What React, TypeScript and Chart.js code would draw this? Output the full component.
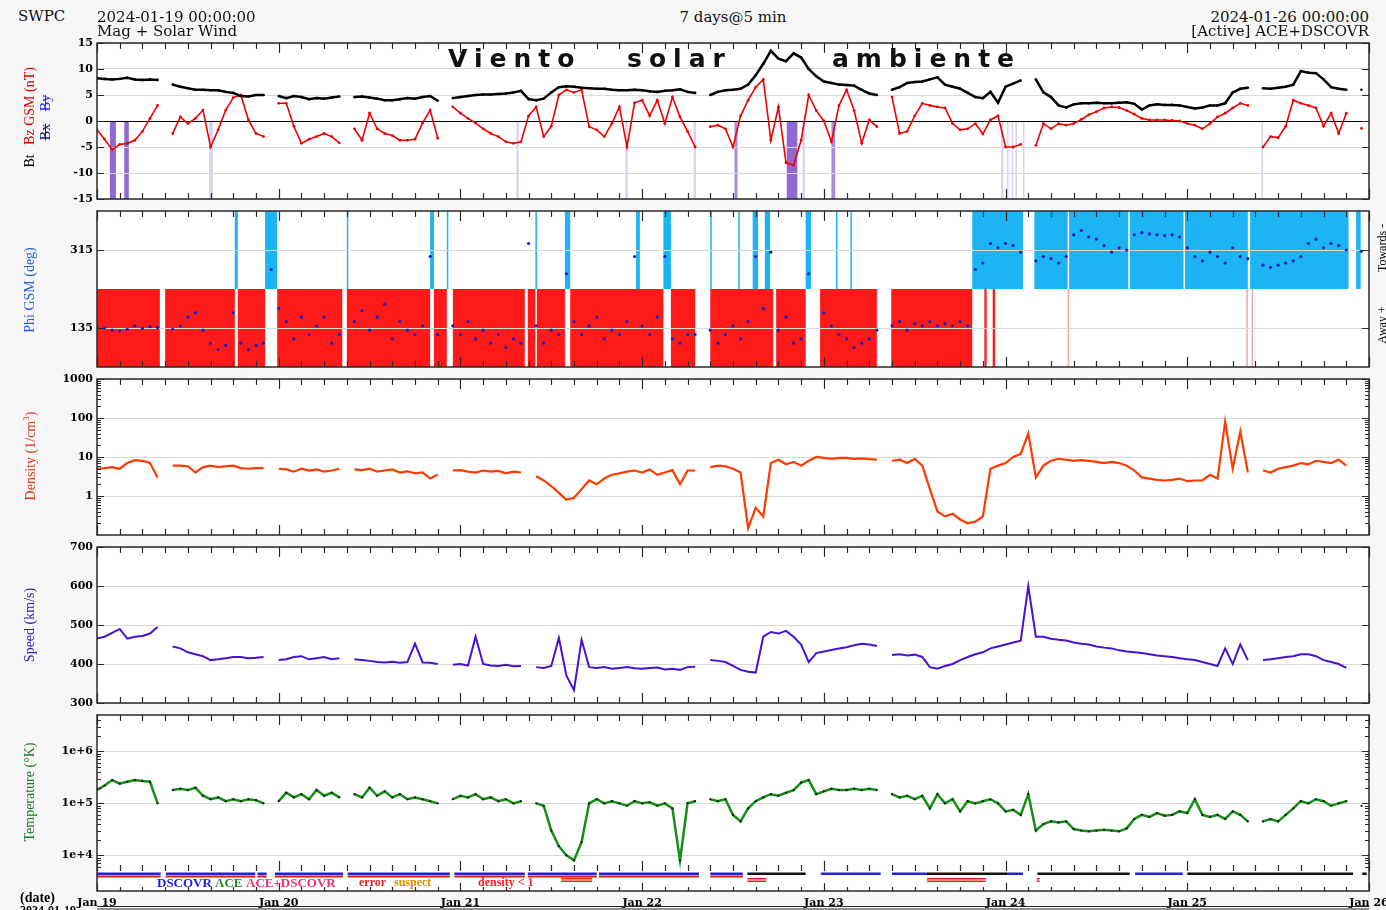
import React, { useEffect, useRef } from 'react';
import Chart from 'chart.js/auto';

// ---------------- DATA (hourly samples, hour 0 = 2024-01-19 00:00) ----------------
const dayLabels = ['Jan 19', 'Jan 20', 'Jan 21', 'Jan 22', 'Jan 23', 'Jan 24', 'Jan 25', 'Jan 26'];
const dayTicks = [0, 24, 48, 72, 96, 120, 144, 168];

const bt = [
  8.2, 8.1, 8.0, 8.1, 8.3, 8.0, 7.9, 8.0, 7.9, null, 7.0, 6.6, 6.3, 6.0, 6.0, 5.9, 5.9, 5.6, 5.4, 4.8, 4.7, 5.0, 5.0, null,
  4.8, 4.4, 4.8, 4.6, 4.2, 4.4, 4.3, 4.5, 4.7, null, 4.6, 4.7, 4.5, 4.3, 4.0, 4.0, 4.2, 4.4, 4.3, 4.6, 4.8, 3.9, null, 4.4,
  4.6, 4.8, 5.0, 5.1, 5.1, 5.2, 5.3, 5.5, 5.8, 4.2, 4.0, 4.3, 5.5, 6.5, 6.7, 6.6, 6.4, 6.3, 6.2, 6.2, 6.0, 5.9, 5.9, 6.0,
  5.9, 5.7, 5.6, 5.8, 5.9, 6.1, 5.6, 5.4, null, 5.0, 5.6, 5.9, 6.0, 6.2, 7.0, 8.8, 11.0, 13.5, 12.0, 11.5, 13.0, 12.2, 10.0, 8.6,
  7.6, 7.3, 7.0, 6.9, 6.8, 6.0, 5.3, 5.0, null, 6.0, 6.5, 7.3, 7.5, 7.6, 8.0, 8.4, 7.0, 6.6, 6.2, 5.4, 4.6, 4.4, 5.6, 3.5,
  6.6, 7.2, 7.8, null, 8.0, 5.5, 4.6, 3.0, 2.6, 3.2, 3.4, 3.4, 3.5, 3.4, 3.4, 3.5, 3.6, 3.3, 2.2, 3.0, 3.2, 3.1, 3.1, 3.0,
  2.7, 2.4, 2.6, 3.0, 3.0, 3.4, 5.5, 6.2, 6.4, null, 6.3, 6.2, 6.4, 6.6, 7.0, 9.6, 9.3, 9.2, 8.0, 6.5, 6.2, 6.0, null, 6.0,
  null,
];

const bz = [
  -1.7, -3.5, -5.5, -4.5, -4.3, -3.7, -2.0, 0.5, 3.0, null, -2.4, 0.8, -0.5, 0.5, 2.1, -5.0, -1.7, 2.1, 4.5, 5.0, 0.2, -2.4, -3.0, null,
  3.4, 3.4, -1.0, -4.3, -3.5, -3.0, -2.4, -3.0, -4.2, null, -1.5, -3.7, 1.5, -1.5, -2.4, -2.8, -3.7, -3.7, -3.5, -0.4, 2.1, -3.3, null, 2.7,
  1.5, 0.5, -0.4, -1.5, -2.4, -3.0, -4.0, -4.3, -4.0, 1.0, 2.7, -3.0, -1.0, 5.0, 6.0, 5.5, 6.0, -1.1, -1.7, -3.0, -0.5, 2.7, -5.0, 3.5,
  4.0, 1.0, 4.0, -0.5, 4.6, 0.8, -2.0, -5.0, null, -1.1, -0.8, -1.5, -5.0, 1.0, 4.0, 6.5, 8.0, -3.7, 2.7, -8.0, -8.5, -3.7, 5.0, 2.0,
  0.0, -4.0, 3.0, 6.0, 2.0, -4.3, 0.2, -1.1, null, 4.6, -2.4, -2.0, 1.0, 3.4, 3.0, 2.7, 2.5, -0.5, -1.7, -1.5, -0.5, -2.5, 0.2, 1.0,
  -5.0, -5.0, -4.5, null, -4.7, -0.5, -1.5, -0.5, -0.8, -0.5, 0.3, 1.2, 1.8, 2.5, 2.7, 2.6, 2.0, 1.3, 0.5, 0.2, 0.2, 0.2, 0.1, 0.0,
  -0.5, -0.8, -1.5, -0.5, 0.8, 1.5, 2.5, 3.4, 3.0, null, -5.0, -3.0, -3.2, -1.0, 4.0, 3.4, 3.0, 2.5, -1.0, 1.5, -2.4, 1.5, null, -1.4,
  null,
];

const phi = [
  138, 135, 130, 128, 132, 140, 134, 138, 136, null, 132, 140, 160, 170, 130, 100, 85, 95, 170, 100, 85, 95, 100, 270,
  180, 150, 110, 160, 120, 140, 160, 100, 120, null, 150, 175, 130, 160, 190, 110, 150, 130, 120, 140, 300, 120, null, 140,
  120, 150, 110, 130, 100, 120, 90, 110, 100, 330, 140, 100, 130, 120, 260, 150, 120, 140, 160, 110, 130, 120, 150, 300,
  140, 120, 160, 300, 110, 100, 120, 120, null, 130, 100, 120, 140, 110, 150, 300, 180, 310, 130, 160, 100, 110, 260, null,
  170, 140, 120, 110, 90, 100, 110, 130, null, 140, 150, 130, 145, 140, 150, 140, 145, 140, 150, 140, 270, 285, 330, 320,
  330, 325, 310, null, 290, 300, 295, 285, 300, 350, 360, 345, 340, 325, 310, 320, 315, 350, 355, 352, 350, 348, 350, 345,
  320, 300, 290, 310, 300, 285, 320, 300, 295, null, 280, 275, 280, 285, 290, 300, 330, 340, 320, 330, 325, 315, null, 312,
  null,
];

const density = [
  5.0, 5.2, 5.5, 5.0, 7.0, 8.3, 8.0, 7.0, 3.0, null, 6.0, 6.0, 5.8, 4.0, 5.5, 6.0, 5.5, 5.8, 6.0, 5.2, 5.0, 5.2, 5.2, null,
  5.0, 4.8, 4.2, 5.0, 4.5, 4.8, 4.2, 4.5, 5.0, null, 4.8, 4.6, 5.0, 4.2, 4.5, 4.8, 4.0, 4.3, 3.8, 4.0, 2.8, 3.5, null, 4.5,
  4.6, 4.2, 4.0, 4.5, 4.2, 4.4, 3.8, 4.2, 4.0, null, 3.2, 2.5, 1.8, 1.2, 0.8, 0.9, 1.5, 2.5, 2.0, 2.8, 3.5, 3.8, 4.2, 4.5,
  4.0, 4.8, 3.5, 4.0, 4.6, 2.0, 4.5, 4.5, null, 5.5, 6.0, 5.8, 5.0, 4.0, 0.15, 0.5, 0.3, 7.0, 8.5, 6.5, 7.5, 6.0, 8.0, 10.0,
  9.5, 9.0, 9.5, 9.5, 9.0, 9.2, 8.8, 8.5, null, 8.0, 8.5, 7.0, 9.0, 6.0, 1.5, 0.4, 0.3, 0.35, 0.25, 0.2, 0.22, 0.3, 5.0, 6.0,
  7.0, 10.0, 12.0, 40.0, 3.0, 6.0, 8.0, 9.0, 8.5, 8.0, 8.3, 8.0, 7.5, 7.0, 7.5, 7.0, 6.0, 4.5, 3.0, 2.8, 2.6, 2.5, 2.6, 2.8,
  2.4, 2.5, 2.5, 3.5, 2.8, 80.0, 5.0, 45.0, 4.0, null, 4.5, 4.0, 5.0, 5.5, 6.0, 7.0, 6.5, 8.0, 7.5, 7.0, 8.5, 6.0, null, 5.0,
  null,
];

const speed = [
  465, 470, 480, 490, 465, 470, 472, 478, 495, null, 445, 440, 430, 425, 420, 410, 412, 415, 418, 418, 415, 416, 418, null,
  410, 412, 418, 420, 412, 415, 418, 412, 415, null, 412, 410, 408, 405, 404, 406, 403, 405, 452, 404, 403, 400, null, 398,
  400, 396, 470, 400, 396, 395, 398, 394, 395, null, 392, 390, 395, 467, 370, 333, 462, 392, 390, 392, 388, 390, 392, 389,
  388, 390, 391, 386, 388, 385, 392, 393, null, 410, 408, 405, 395, 385, 380, 378, 470, 482, 478, 485, 470, 450, 405, 428,
  432, 436, 440, 443, 448, 452, 450, 446, null, 423, 425, 422, 424, 418, 392, 388, 395, 400, 410, 418, 425, 430, 440, 445,
  450, 455, 460, 600, 470, 470, 465, 462, 460, 455, 452, 450, 445, 442, 440, 435, 432, 430, 428, 425, 422, 420, 418, 415,
  412, 410, 405, 400, 395, 440, 400, 450, 410, null, 410, 412, 415, 418, 420, 425, 425, 420, 410, 405, 400, 390, null, 380,
  null,
];

const temperature = [
  1.8e5, 2.2e5, 2.8e5, 2.4e5, 2.6e5, 2.8e5, 2.7e5, 2.6e5, 1.0e5, null, 1.8e5, 1.9e5, 1.8e5, 2.0e5, 1.4e5, 1.2e5, 1.3e5, 1.1e5, 1.2e5, 1.1e5, 1.2e5, 1.15e5, 1.0e5, null,
  1.1e5, 1.6e5, 1.3e5, 1.5e5, 1.2e5, 1.8e5, 1.4e5, 1.6e5, 1.3e5, null, 1.5e5, 1.3e5, 2.0e5, 1.4e5, 1.7e5, 1.3e5, 1.5e5, 1.2e5, 1.3e5, 1.2e5, 1.1e5, 1.0e5, null, 1.2e5,
  1.4e5, 1.3e5, 1.5e5, 1.2e5, 1.3e5, 1.1e5, 1.2e5, 1.0e5, 1.1e5, null, 1.0e5, 0.9e5, 3.0e4, 1.5e4, 1.0e4, 8e3, 1.8e4, 1.0e5, 1.2e5, 1.0e5, 1.1e5, 1.0e5, 0.9e5, 1.1e5,
  1.0e5, 1.05e5, 0.9e5, 1.0e5, 0.8e5, 8e3, 1.0e5, 1.1e5, null, 1.2e5, 1.1e5, 1.2e5, 6e4, 4.5e4, 8e4, 1.1e5, 1.3e5, 1.5e5, 1.4e5, 1.6e5, 1.8e5, 2.5e5, 2.8e5, 1.5e5,
  1.7e5, 1.9e5, 1.8e5, 1.8e5, 1.9e5, 1.8e5, 1.9e5, 1.8e5, null, 1.5e5, 1.3e5, 1.4e5, 1.2e5, 1.4e5, 8e4, 1.5e5, 1.0e5, 1.2e5, 0.7e5, 1.1e5, 1.0e5, 1.1e5, 1.2e5, 1.0e5,
  7e4, 7.5e4, 6e4, 1.5e5, 3e4, 4e4, 4.5e4, 4.3e4, 4.5e4, 3.2e4, 3.0e4, 2.9e4, 3.0e4, 3.1e4, 3.0e4, 2.9e4, 3.3e4, 5e4, 6e4, 5.5e4, 6.5e4, 5.8e4, 6.0e4, 7e4,
  6.5e4, 1.2e5, 6e4, 5.5e4, 6e4, 5e4, 7e4, 6e4, 4.5e4, null, 4.5e4, 5e4, 4.5e4, 6e4, 8e4, 1.1e5, 1.0e5, 1.2e5, 1.1e5, 0.9e5, 1.0e5, 1.1e5, null, 0.9e5,
  null,
];

// axis tick values
const bzTicks = [-15, -10, -5, 0, 5, 10, 15];
const phiTicks = [135, 315];
const densityTicks = [1, 10, 100, 1000];
const speedTicks = [300, 400, 500, 600, 700];
const tempTicks = [1e4, 1e5, 1e6];

// southward-Bz highlight intervals (hours)
const bzSouthStrong = [[1.7, 2.5], [3.6, 4.2], [91.1, 92.5]];
const bzSouthModerate = [[84.2, 84.6], [97.0, 97.5]];
const bzSouthWeak = [[14.8, 15.3], [55.4, 55.7], [69.8, 70.1], [78.8, 79.1], [93.2, 93.5], [119.4, 119.7], [120.2, 120.4], [120.8, 121.0], [121.3, 121.5], [122.3, 122.5], [153.8, 154.0]];

// IMF sector intervals (hours)
const awaySectors = [[0, 8.3], [9.0, 18.2], [18.6, 22.2], [23.8, 32.4], [33.0, 44.0], [44.5, 46.2], [47.0, 56.5], [56.9, 57.9], [58.1, 61.8], [62.5, 74.8], [75.8, 79.0], [81.0, 89.3], [89.7, 93.6], [95.5, 103.0], [104.9, 115.6], [117.2, 117.5], [118.3, 118.6]];
const awayFaint = [[128.2, 128.4], [151.8, 152.0], [152.5, 152.7]];
const towardSectors = [[18.2, 18.6], [22.2, 23.8], [33.0, 33.15], [44.0, 44.5], [46.2, 46.4], [57.9, 58.1], [61.8, 62.5], [71.2, 71.7], [74.8, 75.8], [81.0, 81.15], [84.7, 84.85], [86.6, 87.3], [88.2, 88.9], [93.6, 94.3], [97.6, 97.75], [99.5, 99.65], [115.6, 122.3], [123.8, 128.2], [128.4, 136.2], [136.4, 143.5], [143.7, 152.0], [152.3, 165.3], [166.3, 166.9]];

// data source / quality flags (hours)
const srcDscovr = [[0, 8.4], [9.1, 20.9], [21.2, 22.4], [23.5, 32.5], [33.1, 46.6], [47.2, 56.5], [56.9, 66], [66.3, 79.5], [81, 85.3], [95.6, 103.5], [105, 109.6], [120.2, 122.3], [137.1, 143.4]];
const srcCombined = [[85.9, 93.6], [109.6, 120.2], [124.2, 136.4], [144, 165.9], [167.1, 167.7]];
const flagRow = [[0, 8.4], [9.1, 20.9], [21.2, 22.4], [23.5, 32.5], [33.1, 46.6], [47.2, 56.5], [56.9, 66], [66.3, 79.5], [81, 85.3]];
const densityLow = [[61.3, 65.4], [85.9, 88.4], [109.6, 117.4], [124.1, 124.5]];

// ---------------- helpers ----------------
const toXY = (arr: (number | null)[]) => arr.map((v, i) => ({ x: i, y: v }));
const tickFont = { family: 'DejaVu Serif', weight: 'bold' as const, size: 11 };

function fillIntervals(chart: any, list: number[][], y0: number, y1: number, color: string) {
  const { ctx, scales } = chart;
  const xs = scales.x, ys = scales.y;
  const top = ys.getPixelForValue(y1), bot = ys.getPixelForValue(y0);
  ctx.fillStyle = color;
  for (const [s, e] of list) {
    const a = xs.getPixelForValue(s), b = xs.getPixelForValue(e);
    ctx.fillRect(a, top, Math.max(b - a, 1.5), bot - top);
  }
}

function hLines(chart: any, list: number[][], y: number, h: number, color: string) {
  const { ctx, scales } = chart;
  const xs = scales.x;
  ctx.fillStyle = color;
  for (const [s, e] of list) {
    const a = xs.getPixelForValue(s), b = xs.getPixelForValue(e);
    ctx.fillRect(a, y, Math.max(b - a, 1.5), h);
  }
}

function decoPlugin(p: any) {
  return {
    id: 'deco',
    beforeDraw(chart: any) {
      const { ctx, chartArea: a } = chart;
      ctx.save();
      ctx.fillStyle = '#ffffff';
      ctx.fillRect(a.left, a.top, a.right - a.left, a.bottom + (p.extraBottom || 0) - a.top);
      if (p.under) p.under(chart);
      ctx.restore();
    },
    afterDraw(chart: any) {
      const { ctx, chartArea: a, scales } = chart;
      const xs = scales.x, ys = scales.y;
      const bottom = a.bottom + (p.extraBottom || 0);
      ctx.save();
      if (p.over) p.over(chart);
      ctx.strokeStyle = '#2a2a2a';
      ctx.lineWidth = 1.2;
      ctx.beginPath();
      for (let h = 0; h <= 168; h += 3) {
        const px = Math.round(xs.getPixelForValue(h)) + 0.5;
        const major = h % 24 === 0;
        const len = major ? 10 : 6;
        ctx.moveTo(px, a.top); ctx.lineTo(px, a.top + len);
        ctx.moveTo(px, a.bottom); ctx.lineTo(px, a.bottom - len);
        if (p.extraBottom) { ctx.moveTo(px, bottom); ctx.lineTo(px, bottom - (major ? 8 : 4)); }
      }
      for (const v of p.yTicks) {
        const py = Math.round(ys.getPixelForValue(v)) + 0.5;
        ctx.moveTo(a.left, py); ctx.lineTo(a.left + 7, py);
        ctx.moveTo(a.right, py); ctx.lineTo(a.right - 7, py);
      }
      if (p.yType === 'logarithmic') {
        const e0 = Math.floor(Math.log10(p.yMin)), e1 = Math.ceil(Math.log10(p.yMax));
        for (let e = e0; e <= e1; e++) {
          for (let m = 2; m <= 9; m++) {
            const v = m * Math.pow(10, e);
            if (v <= p.yMin || v >= p.yMax) continue;
            const py = Math.round(ys.getPixelForValue(v)) + 0.5;
            ctx.moveTo(a.left, py); ctx.lineTo(a.left + 4, py);
            ctx.moveTo(a.right, py); ctx.lineTo(a.right - 4, py);
          }
        }
      }
      ctx.stroke();
      ctx.lineWidth = 1.5;
      ctx.strokeRect(a.left, a.top, a.right - a.left, bottom - a.top);
      if (p.extraBottom) {
        ctx.lineWidth = 1;
        ctx.beginPath();
        ctx.moveTo(a.left, bottom + 15.5); ctx.lineTo(a.right, bottom + 15.5);
        ctx.moveTo(a.left, bottom + 18); ctx.lineTo(a.right, bottom + 18);
        ctx.stroke();
      }
      ctx.restore();
    },
  };
}

function buildConfig(p: any) {
  return {
    type: 'line',
    data: { datasets: p.datasets },
    options: {
      responsive: false,
      animation: false,
      events: [],
      layout: { padding: { left: 0, right: 17, top: 10, bottom: p.showX ? 0 : 10 } },
      plugins: { legend: { display: false }, tooltip: { enabled: false } },
      scales: {
        x: {
          type: 'linear', min: 0, max: 168, display: !!p.showX,
          grid: { display: false, drawTicks: false },
          border: { display: false },
          afterBuildTicks: (s: any) => { s.ticks = dayTicks.map((v) => ({ value: v })); },
          afterFit: (s: any) => { s.height = p.showX ? 39 : 0; s.paddingLeft = 0; s.paddingRight = 0; },
          ticks: {
            autoSkip: false, maxRotation: 0, minRotation: 0, padding: 26, color: '#000', font: tickFont,
            callback: (v: number) => dayLabels[Math.round(v / 24)],
          },
        },
        y: {
          type: p.yType, min: p.yMin, max: p.yMax, position: 'left',
          afterBuildTicks: (s: any) => { s.ticks = p.yTicks.map((v: number) => ({ value: v })); },
          afterFit: (s: any) => { s.width = 97; s.paddingTop = 0; s.paddingBottom = 0; },
          grid: {
            drawTicks: false,
            color: (c: any) => (p.zeroLine && c.tick && c.tick.value === 0 ? '#000000' : '#d8d8d8'),
            lineWidth: 1,
          },
          border: { display: false },
          ticks: { padding: 4, color: '#000', font: tickFont, callback: p.fmt || ((v: number) => String(v)) },
        },
      },
    },
    plugins: [decoPlugin(p)],
  };
}

const panelDefs: any[] = [
  {
    top: 33, height: 176, yType: 'linear', yMin: -15, yMax: 15, yTicks: bzTicks, zeroLine: true,
    datasets: [
      { data: toXY(bt), borderColor: '#000', borderWidth: 2.5, pointRadius: 1.3, pointBackgroundColor: '#000', pointBorderWidth: 0 },
      { data: toXY(bz), borderColor: '#ee0000', borderWidth: 1.6, pointRadius: 1.4, pointBackgroundColor: '#ee0000', pointBorderWidth: 0 },
    ],
    under: (c: any) => {
      fillIntervals(c, bzSouthWeak, -15, 0, 'rgba(150,120,220,0.35)');
      fillIntervals(c, bzSouthModerate, -15, 0, 'rgba(140,100,210,0.75)');
      fillIntervals(c, bzSouthStrong, -15, 0, 'rgb(145,105,212)');
    },
  },
  {
    top: 201, height: 176, yType: 'linear', yMin: 45, yMax: 405, yTicks: phiTicks,
    datasets: [
      { data: toXY(phi), showLine: false, pointRadius: 1.6, pointBackgroundColor: '#1c1cc4', pointBorderWidth: 0 },
    ],
    under: (c: any) => {
      fillIntervals(c, awaySectors, 45, 225, '#ff1a1a');
      fillIntervals(c, awayFaint, 45, 225, 'rgba(235,60,60,0.45)');
      fillIntervals(c, towardSectors, 225, 405, '#1cb4f2');
    },
  },
  {
    top: 369, height: 176, yType: 'logarithmic', yMin: 0.1, yMax: 1000, yTicks: densityTicks,
    datasets: [{ data: toXY(density), borderColor: '#ff3a00', borderWidth: 2.2, pointRadius: 0 }],
  },
  {
    top: 537, height: 176, yType: 'linear', yMin: 300, yMax: 700, yTicks: speedTicks,
    datasets: [{ data: toXY(speed), borderColor: '#4a12d0', borderWidth: 2, pointRadius: 0 }],
  },
  {
    top: 705, height: 205, yType: 'logarithmic', yMin: 5e3, yMax: 5e6, yTicks: tempTicks, showX: true, extraBottom: 20,
    fmt: (v: number) => '1e+' + Math.round(Math.log10(v)),
    datasets: [
      { data: toXY(temperature), borderColor: '#139013', borderWidth: 2.5, pointRadius: 1.1, pointBackgroundColor: '#111', pointBorderWidth: 0 },
    ],
    over: (c: any) => {
      const b = c.chartArea.bottom;
      hLines(c, srcDscovr, b + 1.5, 2.5, '#2020e0');
      hLines(c, srcCombined, b + 1.5, 2.5, '#111111');
      hLines(c, flagRow, b + 4.5, 2, '#d41a1a');
      hLines(c, densityLow, b + 7, 1.5, '#ee1a1a');
      hLines(c, densityLow, b + 9.5, 1.5, '#ee1a1a');
    },
  },
];

// ---------------- components ----------------
function VText({ x, y, children, style }: any) {
  return (
    <div style={{ position: 'absolute', left: x, top: y, transform: 'translate(-50%,-50%) rotate(-90deg)', whiteSpace: 'nowrap', lineHeight: 1, fontFamily: 'Liberation Serif', fontSize: 14, ...style }}>
      {children}
    </div>
  );
}

function T({ style, children }: any) {
  return <div style={{ position: 'absolute', whiteSpace: 'nowrap', lineHeight: 1, ...style }}>{children}</div>;
}

export default function App() {
  const r0 = useRef<HTMLCanvasElement>(null);
  const r1 = useRef<HTMLCanvasElement>(null);
  const r2 = useRef<HTMLCanvasElement>(null);
  const r3 = useRef<HTMLCanvasElement>(null);
  const r4 = useRef<HTMLCanvasElement>(null);
  const refs = [r0, r1, r2, r3, r4];

  useEffect(() => {
    const charts = panelDefs.map((p, i) => new Chart(refs[i].current as HTMLCanvasElement, buildConfig(p) as any));
    return () => charts.forEach((c) => c.destroy());
  }, []);

  const hdr = { fontFamily: 'DejaVu Serif', fontSize: 15, color: '#111' };
  const wm = { fontFamily: 'DejaVu Sans', fontWeight: 'bold', fontSize: 25, letterSpacing: 7, color: '#111', top: 46 };
  const leg = { fontFamily: 'Liberation Serif', fontWeight: 'bold', fontSize: 13, top: 876 };

  return (
    <div style={{ position: 'absolute', left: 0, top: 0, width: 1386, height: 910, overflow: 'hidden', background: '#f7f7f7' }}>
      {panelDefs.map((p, i) => (
        <canvas key={i} ref={refs[i]} width={1386} height={p.height} style={{ position: 'absolute', left: 0, top: p.top, width: 1386, height: p.height }} />
      ))}

      <T style={{ ...hdr, left: 18, top: 9 }}>SWPC</T>
      <T style={{ ...hdr, left: 97, top: 10 }}>2024-01-19 00:00:00</T>
      <T style={{ ...hdr, left: 97, top: 24 }}>Mag + Solar Wind</T>
      <T style={{ ...hdr, left: 733, top: 10, transform: 'translateX(-50%)' }}>7 days@5 min</T>
      <T style={{ ...hdr, right: 17, top: 10 }}>2024-01-26 00:00:00</T>
      <T style={{ ...hdr, right: 17, top: 24 }}>[Active] ACE+DSCOVR</T>

      <T style={{ ...wm, left: 448 }}>Viento</T>
      <T style={{ ...wm, left: 627 }}>solar</T>
      <T style={{ ...wm, left: 832 }}>ambiente</T>

      <VText x={30} y={161} style={{ color: '#000' }}>Bt</VText>
      <VText x={30} y={106} style={{ color: '#e00000' }}>Bz GSM (nT)</VText>
      <VText x={46} y={132} style={{ color: '#14148a', textDecoration: 'line-through' }}>Bx</VText>
      <VText x={46} y={103} style={{ color: '#2a2aff', textDecoration: 'line-through' }}>By</VText>
      <VText x={30} y={290} style={{ color: '#1f5fe0' }}>Phi GSM (deg)</VText>
      <VText x={1382} y={248} style={{ color: '#000', fontSize: 12 }}>Towards -</VText>
      <VText x={1382} y={325} style={{ color: '#000', fontSize: 12 }}>Away +</VText>
      <VText x={30} y={456} style={{ color: '#e0301e' }}>Density (1/cm<sup style={{ fontSize: 9 }}>3</sup>)</VText>
      <VText x={30} y={625} style={{ color: '#3a10c0' }}>Speed (km/s)</VText>
      <VText x={30} y={792} style={{ color: '#1f7a1f' }}>Temperature (°K)</VText>

      <T style={{ ...leg, left: 157, color: '#1a1aee' }}>DSCOVR</T>
      <T style={{ ...leg, left: 215, color: '#228b22' }}>ACE</T>
      <T style={{ ...leg, left: 246, color: '#f0306a' }}>ACE+DSCOVR</T>
      <T style={{ ...leg, left: 359, color: '#e02020', fontSize: 12 }}>error</T>
      <T style={{ ...leg, left: 394, color: '#e08a00', fontSize: 12 }}>suspect</T>
      <T style={{ ...leg, left: 478, color: '#ff2020', fontSize: 12 }}>density &lt; 1</T>

      <T style={{ fontFamily: 'Liberation Serif', fontWeight: 'bold', fontSize: 14, color: '#000', left: 20, top: 891 }}>(date)</T>
      <T style={{ fontFamily: 'Liberation Serif', fontWeight: 'bold', fontSize: 12, color: '#000', left: 20, top: 904 }}>2024-01-19</T>
    </div>
  );
}
